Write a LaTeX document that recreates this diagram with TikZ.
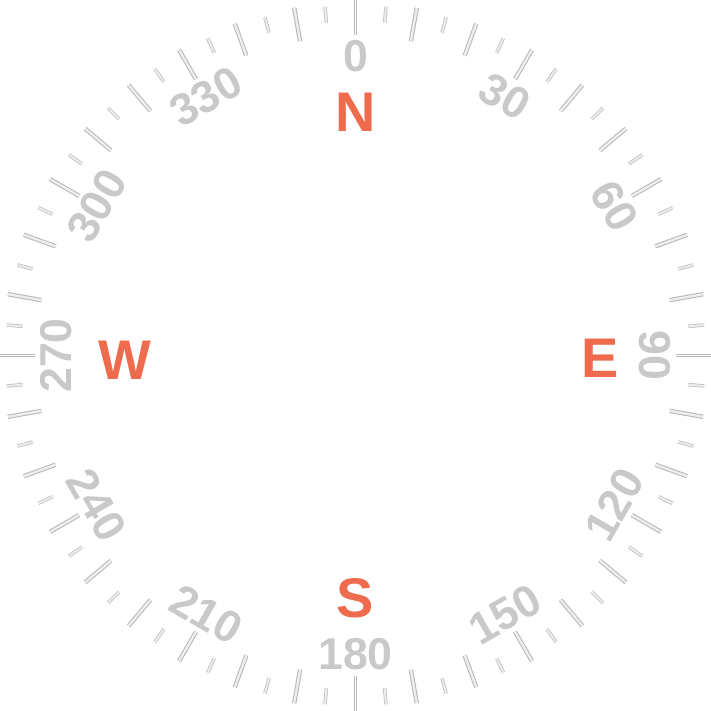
\documentclass[tikz,border=0pt]{standalone}
\usepackage{fontspec}
\setmainfont{Liberation Sans}
\usepackage{tikz}
\usetikzlibrary{calc}
\definecolor{dialedge}{HTML}{B9B9B9}
\definecolor{dialfill}{HTML}{EEEEEE}
\definecolor{dialnum}{HTML}{C9C9C9}
\definecolor{cardinal}{HTML}{EE6C4D}
\tikzset{
  majortick/.style={draw=dialedge,double=dialfill,double distance=0.65pt,line width=0.3pt},
  minortick/.style={draw=dialedge!85,double=dialfill,double distance=0.5pt,line width=0.25pt},
  cardtick/.style={draw=dialedge,double=white,double distance=0.5pt,line width=0.28pt},
  degnum/.style={font=\fontsize{12.7}{12.7}\selectfont\bfseries,text=dialnum,inner sep=0pt},
  cardletter/.style={font=\fontsize{15.9}{15.9}\selectfont\bfseries,text=cardinal,inner sep=0pt}
}

\begin{document}
\begin{tikzpicture}
  \useasboundingbox (-3.555,-3.555) rectangle (3.555,3.555);
  % ticks every 5 degrees
  \foreach \b in {5,15,...,355}
    \draw[minortick] ({90-\b}:3.34) -- ({90-\b}:3.50);
  \foreach \q in {0,90,180,270}
    \foreach \s in {10,20,...,80}
      \draw[majortick] ({90-\q-\s}:3.19) -- ({90-\q-\s}:3.53);
  \foreach \q in {0,90,180,270}
    \draw[cardtick] ({90-\q}:3.20) -- ({90-\q}:3.555);
  % bearings
  \foreach \b in {0,30,...,330} {
    \pgfmathsetmacro\rot{(\b>90 && \b<270) ? 180-\b : -\b}
    \node[degnum,rotate=\rot] (deg\b) at ({90-\b}:2.99) {\b};
  }
  % cardinal points
  \node[cardletter] (north) at (0,2.435) {N};
  \node[cardletter] (east) at (2.445,-0.025) {E};
  \node[cardletter] (south) at (0,-2.425) {S};
  \node[cardletter] (west) at (-2.305,-0.05) {W};
\end{tikzpicture}
\end{document}
